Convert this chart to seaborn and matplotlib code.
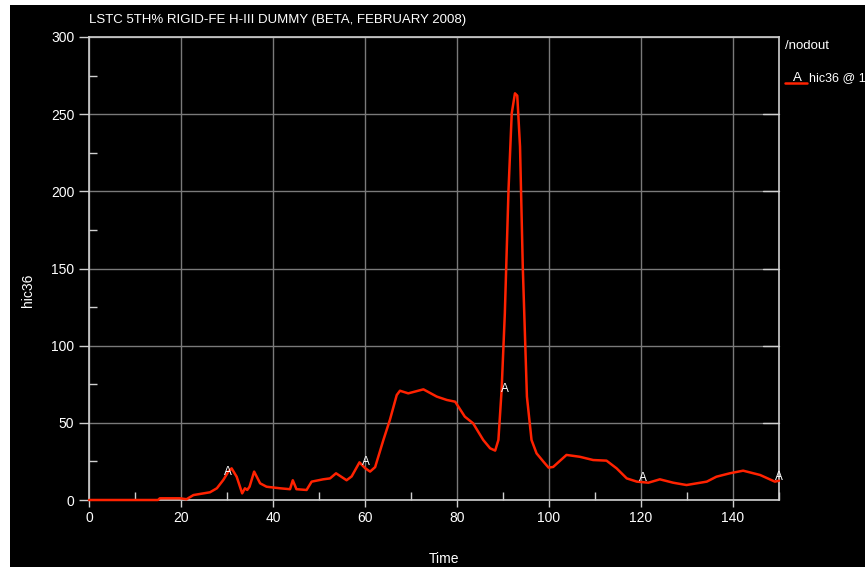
import numpy as np
import pandas as pd
import matplotlib
matplotlib.use("Agg")
import matplotlib.pyplot as plt
from matplotlib.patches import Rectangle
from matplotlib.lines import Line2D
from matplotlib.ticker import MultipleLocator
import seaborn as sns

# ---- data ----
time = [0, 15, 15.4, 19.8, 21.2, 22.7, 26.3, 27.8, 29.2, 30.3, 31.0, 32.1, 33.3, 33.9,
        34.4, 34.9, 35.9, 37.2, 38.6, 41.5, 43.7, 44.3, 45.1, 47.3, 48.4, 50.9, 52.4,
        53.7, 56.0, 57.1, 58.8, 60.0, 61.1, 62.2, 64.0, 65.4, 66.9, 67.6, 69.4, 72.7,
        75.6, 77.8, 79.6, 81.7, 83.5, 85.7, 87.2, 88.3, 89.0, 89.7, 90.4, 91.2, 91.9,
        92.6, 93.1, 93.7, 94.3, 95.2, 96.2, 97.3, 98.8, 99.9, 100.9, 103.8, 106.7,
        109.6, 112.5, 114.7, 116.9, 119.1, 121.6, 124.1, 127.0, 129.9, 134.3, 136.4,
        139.3, 142.2, 145.9, 149.1, 150]
hic36 = [0, 0, 1.1, 1.1, 0.5, 3.2, 5, 7.6, 13, 18.4, 20.5, 15.1, 4.3, 7.6,
         6.5, 8.6, 18.4, 10.8, 8.6, 7.6, 7.0, 12.8, 7.0, 6.5, 11.9, 13.4, 14,
         17.3, 12.8, 15.3, 24.4, 20.7, 18.4, 21.3, 38.9, 51.8, 68, 70.8, 69.1, 71.7,
         67, 64.8, 63.7, 54, 49.7, 38.9, 33.5, 32, 38.9, 71.3, 121, 201, 250.6,
         263.5, 262, 229, 151, 67, 38.9, 30.2, 24.8, 21, 21.4, 29.2, 28,
         25.9, 25.5, 20.5, 14, 11.9, 11.2, 13.4, 11.2, 9.7, 11.9, 15.1,
         17.3, 19, 16.2, 11.9, 12.5]
label_x = [30.3, 60.2, 90.4, 120.4, 150.0]
label_y = [18.2, 24.5, 72.0, 14.0, 15.0]
x_ticks = [0, 20, 40, 60, 80, 100, 120, 140]
y_ticks = [0, 50, 100, 150, 200, 250, 300]
title = "LSTC 5TH% RIGID-FE H-III DUMMY (BETA, FEBRUARY 2008)"

df = pd.DataFrame({"Time": time, "hic36": hic36})

sns.set_theme(style="dark")
plt.rcParams["font.family"] = ["Liberation Sans", "DejaVu Sans"]

W, H = 865, 567
fig = plt.figure(figsize=(W / 100, H / 100), dpi=100, facecolor="black")
# white margins (left strip and top strip)
fig.patches.append(Rectangle((0, 0), 10 / W, 1, transform=fig.transFigure,
                             facecolor="white", edgecolor="none", zorder=0))
fig.patches.append(Rectangle((0, 1 - 5 / H), 1, 5 / H, transform=fig.transFigure,
                             facecolor="white", edgecolor="none", zorder=0))

L, R, T, B = 89, 779, 37, 500
ax = fig.add_axes([L / W, 1 - B / H, (R - L) / W, (B - T) / H])
ax.set_facecolor("black")

sns.lineplot(data=df, x="Time", y="hic36", ax=ax, color="#ff2200", linewidth=1.8,
             clip_on=False, zorder=5)

ax.set_xlim(0, 150)
ax.set_ylim(0, 300)
ax.set_xticks(x_ticks)
ax.set_yticks(y_ticks)
ax.xaxis.set_minor_locator(MultipleLocator(10))
ax.yaxis.set_minor_locator(MultipleLocator(25))

ax.grid(True, which="major", color="#7a7a7a", linewidth=1.0)
ax.grid(False, which="minor")
for s in ax.spines.values():
    s.set_visible(True)
    s.set_color("#d0d0d0")
    s.set_linewidth(1.2)

ax.tick_params(axis="both", which="major", colors="#d0d0d0", labelcolor="white",
               labelsize=10, length=7, width=1, direction="out",
               bottom=True, left=True, right=False, top=False)
ax.tick_params(axis="both", which="minor", colors="#d0d0d0", length=6, width=1,
               direction="in", bottom=True, left=True, right=False, top=False)
ax.tick_params(axis="x", which="major", length=5, pad=3)

# inward ticks on right spine at major y
for yv in y_ticks[1:-1]:
    ax.plot([146.5, 150], [yv, yv], color="#d0d0d0", linewidth=1, zorder=4, clip_on=False)

ax.set_xlabel("Time", color="white", fontsize=10)
ax.set_ylabel("hic36", color="white", fontsize=10)
ax.xaxis.set_label_coords(0.514, -0.112)
ax.yaxis.set_label_coords(-0.078, 0.453)

for xv, yv in zip(label_x, label_y):
    ax.text(xv, yv, "A", color="white", fontsize=8.5, ha="center", va="center",
            zorder=6, clip_on=False)

fig.text(L / W, 1 - 20 / H, title, color="white", fontsize=9.5, ha="left", va="center")
fig.text(785 / W, 1 - 46 / H, "/nodout", color="white", fontsize=9.5, ha="left", va="center")
fig.text(797 / W, 1 - 78 / H, "A", color="white", fontsize=9.5, ha="center", va="center")
fig.text(809 / W, 1 - 78 / H, "hic36 @ 1", color="white", fontsize=9, ha="left", va="center")
fig.lines.append(Line2D([785 / W, 807 / W], [1 - 83 / H, 1 - 83 / H], transform=fig.transFigure,
                        color="#ff2200", linewidth=1.8))

fig.savefig("out.png", dpi=100, facecolor=fig.get_facecolor())
